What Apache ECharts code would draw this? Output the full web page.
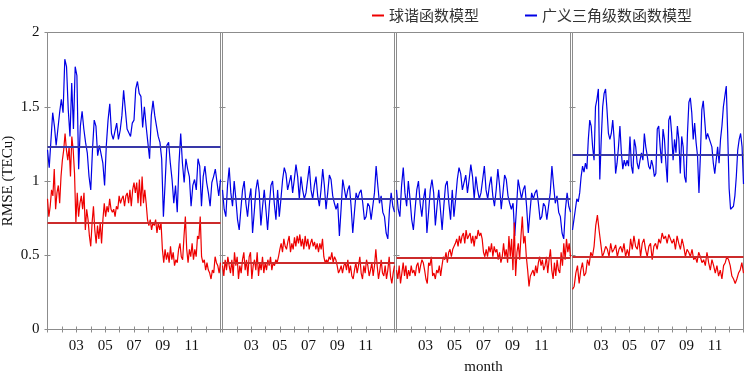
<!DOCTYPE html>
<html>
<head>
<meta charset="utf-8">
<script src="https://cdn.jsdelivr.net/npm/echarts/dist/echarts.min.js"></script>
<style>
html, body { margin: 0; padding: 0; background: #fff; }
#chart { width: 746px; height: 373px; }
</style>
</head>
<body>
<div id="chart"></div>
<script>
// 图例名称
var redName = '球谐函数模型';
var blueName = '广义三角级数函数模型';

// 月份刻度标签（刻度值为从1月1日起的月数）
var tickMonths = { 2: '03', 4: '05', 6: '07', 8: '09', 10: '11' };

// 各子图的平均值（水平线）
var redMean = [0.72, 0.45, 0.48, 0.49];
var blueMean = [1.23, 0.88, 0.88, 1.18];

// 子图1
var blue1 = [1.21,1.09,1.10,1.46,1.37,1.24,1.35,1.46,1.55,1.46,1.82,1.77,1.48,1.30,1.66,1.35,1.77,1.71,1.08,1.37,
    1.47,1.35,1.26,1.19,1.03,0.94,1.21,1.41,1.37,1.17,1.24,1.24,1.12,0.97,1.24,1.41,1.52,1.32,1.28,1.29,
    1.39,1.28,1.34,1.44,1.61,1.48,1.35,1.34,1.30,1.39,1.41,1.62,1.67,1.59,1.57,1.36,1.50,1.37,1.26,1.15,
    1.44,1.54,1.44,1.37,1.30,1.26,1.15,0.76,0.99,1.24,1.26,1.12,1.01,0.85,0.97,0.79,1.12,1.32,1.12,0.99,
    1.15,1.08,1.03,0.83,0.97,1.01,0.94,1.15,1.10,0.83,1.03,1.10,0.99,0.92,0.83,0.99,1.03,1.08,0.99,0.90,1.01];
var red1 = [0.88,0.76,0.83,0.94,0.90,1.08,0.81,0.92,0.97,0.85,1.03,1.14,1.21,1.32,1.21,1.14,1.23,1.03,1.30,1.21,
    1.05,0.72,0.92,0.76,0.85,0.90,0.81,0.92,0.67,0.81,0.74,0.63,0.56,0.72,0.83,0.67,0.58,0.70,0.61,0.72,
    0.58,0.74,0.85,0.76,0.83,0.79,0.88,0.81,0.79,0.81,0.76,0.83,0.81,0.90,0.85,0.88,0.90,0.83,0.90,0.92,
    0.85,0.94,0.83,0.94,0.99,0.92,0.99,0.85,1.01,0.83,1.03,0.85,0.94,0.85,0.74,0.70,0.74,0.67,0.72,0.70,
    0.74,0.65,0.72,0.67,0.72,0.54,0.45,0.54,0.47,0.52,0.45,0.56,0.47,0.52,0.43,0.47,0.45,0.54,0.58,0.49,
    0.47,0.63,0.76,0.54,0.45,0.54,0.49,0.58,0.47,0.54,0.49,0.63,0.61,0.76,0.49,0.45,0.47,0.40,0.45,0.40,
    0.38,0.34,0.40,0.38,0.49,0.45,0.43,0.38,0.45];

// 子图2
var blue2 = [0.94,0.81,0.76,0.97,1.09,0.92,0.83,1.00,0.88,0.74,0.67,0.81,0.94,1.00,0.85,0.76,0.88,0.95,0.65,0.79,
    0.94,1.01,0.92,0.70,0.83,0.94,0.81,0.67,0.83,0.97,1.00,0.85,0.74,0.94,0.76,0.88,1.01,1.09,1.05,0.94,
    0.99,1.04,0.92,1.01,1.11,1.03,0.88,1.03,0.94,0.88,0.92,1.01,1.10,0.94,0.88,0.97,1.03,0.90,0.83,0.94,
    1.08,0.97,0.81,0.92,1.04,1.01,0.90,0.85,0.81,0.85,0.63,0.81,1.01,1.02,0.88,0.94,0.97,0.83,0.65,0.79,
    0.92,0.88,0.92,0.94,0.85,0.74,0.76,0.85,0.83,0.74,0.83,0.92,1.10,0.97,0.85,0.90,0.79,0.76,0.65,0.61,
    0.81,0.92,0.83,0.79];
var red2 = [0.43,0.36,0.47,0.40,0.49,0.43,0.38,0.47,0.36,0.52,0.43,0.49,0.34,0.43,0.38,0.47,0.52,0.40,0.47,0.36,
    0.49,0.52,0.34,0.43,0.47,0.40,0.52,0.36,0.45,0.40,0.49,0.38,0.45,0.40,0.47,0.43,0.49,0.40,0.45,0.43,
    0.47,0.45,0.49,0.54,0.58,0.52,0.61,0.56,0.54,0.59,0.63,0.52,0.58,0.54,0.62,0.56,0.63,0.58,0.64,0.56,
    0.61,0.54,0.63,0.56,0.61,0.54,0.58,0.61,0.56,0.59,0.54,0.58,0.52,0.58,0.54,0.61,0.49,0.45,0.47,0.45,
    0.49,0.47,0.52,0.45,0.49,0.47,0.43,0.38,0.40,0.43,0.38,0.43,0.45,0.40,0.47,0.38,0.43,0.36,0.34,0.40,
    0.45,0.38,0.43,0.49,0.38,0.34,0.43,0.38,0.47,0.43,0.36,0.40,0.45,0.36,0.43,0.54,0.43,0.34,0.40,0.47,
    0.38,0.36,0.43,0.34,0.40,0.49,0.36,0.31,0.38,0.43];

// 子图3（蓝线与子图2相同）
var blue3 = blue2;
var red3 = [0.40,0.34,0.43,0.31,0.38,0.45,0.36,0.43,0.34,0.40,0.36,0.43,0.38,0.40,0.36,0.43,0.45,0.38,0.43,0.47,
    0.45,0.40,0.34,0.31,0.45,0.43,0.49,0.36,0.38,0.34,0.40,0.38,0.43,0.36,0.43,0.49,0.47,0.52,0.45,0.52,
    0.54,0.49,0.54,0.56,0.58,0.61,0.56,0.63,0.58,0.63,0.65,0.58,0.67,0.61,0.63,0.65,0.58,0.63,0.56,0.63,
    0.61,0.67,0.63,0.65,0.61,0.52,0.49,0.54,0.49,0.56,0.52,0.58,0.49,0.56,0.52,0.54,0.47,0.52,0.45,0.49,
    0.58,0.49,0.54,0.45,0.63,0.49,0.61,0.40,0.72,0.36,0.52,0.58,0.47,0.63,0.76,0.58,0.63,0.49,0.40,0.29,
    0.36,0.38,0.40,0.36,0.43,0.38,0.45,0.49,0.43,0.47,0.40,0.43,0.49,0.38,0.47,0.54,0.40,0.34,0.45,0.36,
    0.47,0.40,0.38,0.52,0.43,0.58,0.47,0.61,0.52,0.58,0.49];

// 子图4
var blue4 = [0.67,0.74,0.81,0.88,0.86,0.92,1.03,1.10,1.06,1.12,1.08,1.28,1.41,1.37,1.23,1.14,1.50,1.55,1.62,1.01,
    1.28,1.50,1.59,1.62,1.48,1.32,1.28,1.32,1.41,1.28,1.05,1.12,1.23,1.37,1.19,1.08,1.14,1.10,1.14,1.10,
    1.30,1.10,1.05,1.28,1.23,1.12,1.08,1.14,1.19,1.14,1.32,1.23,1.17,1.10,1.08,1.14,1.10,1.03,1.05,1.35,
    1.37,1.23,1.12,1.35,1.28,1.12,0.99,1.41,1.44,1.32,1.14,1.28,1.19,1.37,1.28,1.05,1.30,1.23,1.03,0.99,
    1.32,1.53,1.56,1.46,1.28,1.39,1.26,1.17,0.92,1.17,1.48,1.54,1.41,1.28,1.32,1.32,1.26,1.23,1.12,1.05,
    1.14,1.23,1.12,1.28,1.37,1.50,1.57,1.64,1.32,0.95,0.81,0.81,0.83,0.90,1.03,1.21,1.28,1.32,1.23,0.98];
var red4 = [0.27,0.29,0.38,0.43,0.31,0.40,0.45,0.36,0.38,0.47,0.43,0.52,0.49,0.56,0.70,0.77,0.67,0.58,0.49,0.52,
    0.56,0.54,0.49,0.58,0.52,0.54,0.57,0.49,0.54,0.56,0.52,0.58,0.49,0.54,0.49,0.61,0.54,0.63,0.56,0.54,
    0.61,0.49,0.58,0.61,0.54,0.49,0.56,0.58,0.47,0.56,0.58,0.54,0.61,0.58,0.65,0.61,0.63,0.58,0.64,0.65,
    0.58,0.61,0.54,0.63,0.58,0.54,0.61,0.56,0.49,0.54,0.52,0.49,0.54,0.47,0.49,0.45,0.52,0.49,0.45,0.47,
    0.43,0.52,0.45,0.40,0.47,0.43,0.38,0.43,0.36,0.40,0.34,0.43,0.45,0.49,0.47,0.43,0.36,0.34,0.31,0.34,
    0.38,0.40,0.45,0.38];

var redData = [red1, red2, red3, red4];
var blueData = [blue1, blue2, blue3, blue4];

var chart = {
    init: function () {
        var myChart = echarts.init(document.getElementById('chart'));
        // 四个子图的位置（半像素对齐，边框线更清晰）
        var boxes = [[47.5, 173], [222.5, 172], [396.5, 174], [572.5, 171]];
        var serif = 'Liberation Serif';
        var grids = [], xAxes = [], yAxes = [], series = [];

        for (var i = 0; i < 4; i++) {
            grids.push({
                left: boxes[i][0], width: boxes[i][1], top: 32.5, height: 297,
                outerBoundsMode: 'none', containLabel: false,
                show: true, borderColor: '#8c8c8c', borderWidth: 1
            });
            // 下方横轴
            xAxes.push({
                type: 'value', gridIndex: i, min: 0, max: 12, interval: 1,
                axisLine: { show: false },
                axisTick: { inside: true, length: 3, lineStyle: { color: '#8c8c8c' } },
                axisLabel: {
                    margin: 9, fontFamily: serif, fontSize: 15, color: '#111',
                    formatter: function (v) { return tickMonths[v] || ''; }
                },
                splitLine: { show: false },
                name: i === 2 ? 'month' : '',
                nameLocation: 'middle', nameGap: 30,
                nameTextStyle: { fontFamily: serif, fontSize: 15, color: '#111' }
            });
            // 上方横轴（只有刻度）
            xAxes.push({
                type: 'value', gridIndex: i, position: 'top', min: 0, max: 12, interval: 1,
                axisLine: { show: false },
                axisTick: { inside: true, length: 3, lineStyle: { color: '#8c8c8c' } },
                axisLabel: { show: false },
                splitLine: { show: false }
            });
            // 左纵轴
            yAxes.push({
                type: 'value', gridIndex: i, min: 0, max: 2, interval: 0.5,
                axisLine: { show: false },
                axisTick: { inside: true, length: 3, lineStyle: { color: '#8c8c8c' } },
                axisLabel: { show: i === 0, margin: 8, fontFamily: serif, fontSize: 15, color: '#111' },
                splitLine: { show: false },
                name: i === 0 ? 'RMSE (TECu)' : '',
                nameLocation: 'middle', nameRotate: 90, nameGap: 32,
                nameTextStyle: { fontFamily: serif, fontSize: 15, color: '#111' }
            });
            // 右纵轴（只有刻度）
            yAxes.push({
                type: 'value', gridIndex: i, position: 'right', min: 0, max: 2, interval: 0.5,
                axisLine: { show: false },
                axisTick: { inside: true, length: 3, lineStyle: { color: '#8c8c8c' } },
                axisLabel: { show: false },
                splitLine: { show: false }
            });

            series.push(makeLine(blueName, blueData[i], i, '#0000e6', blueMean[i], '#3838a8'));
            series.push(makeLine(redName, redData[i], i, '#ee0000', redMean[i], '#cc2b2b'));
        }

        myChart.setOption({
            animation: false,
            legend: {
                left: 367, top: 3, icon: 'rect', itemWidth: 12, itemHeight: 2, itemGap: 46,
                textStyle: { fontFamily: 'Noto Sans CJK SC', fontSize: 15, color: '#333' },
                data: [redName, blueName]
            },
            grid: grids,
            xAxis: xAxes,
            yAxis: yAxes,
            series: series
        });
    }
};

// 生成一条折线（按日均匀分布在全年）及其均值线
function makeLine(name, values, i, color, mean, meanColor) {
    var n = values.length;
    return {
        name: name, type: 'line', xAxisIndex: i * 2, yAxisIndex: i * 2,
        showSymbol: false, symbol: 'none', color: color,
        lineStyle: { color: color, width: 1.2 },
        data: values.map(function (v, k) { return [k * 12 / (n - 1), v]; }),
        markLine: {
            silent: true, symbol: ['none', 'none'], label: { show: false },
            lineStyle: { color: meanColor, width: 2, type: 'solid' },
            data: [{ yAxis: mean }]
        }
    };
}

chart.init();
</script>
</body>
</html>
